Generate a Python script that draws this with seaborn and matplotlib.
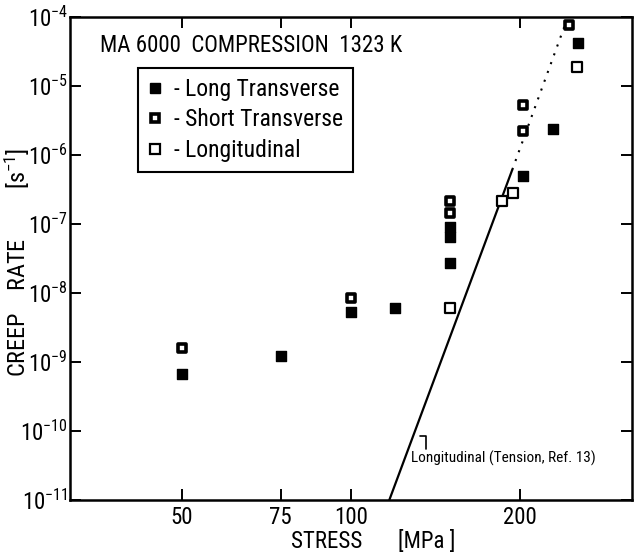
import matplotlib
matplotlib.use("Agg")
import matplotlib.pyplot as plt
import matplotlib.ticker as mticker
from matplotlib.lines import Line2D
import seaborn as sns
import pandas as pd
import numpy as np

# ---------------- data ----------------
long_tr_stress = [50, 75, 100, 120, 150, 150, 150, 202, 229, 253]
long_tr_rate = [6.7e-10, 1.22e-9, 5.3e-9, 6.1e-9, 9.0e-8, 6.5e-8, 2.7e-8, 5.0e-7, 2.4e-6, 4.2e-5]

short_tr_stress = [50, 100, 150, 150, 202, 202, 244]
short_tr_rate = [1.6e-9, 8.5e-9, 2.15e-7, 1.44e-7, 5.3e-6, 2.2e-6, 7.7e-5]

longit_stress = [150, 186, 194, 252]
longit_rate = [6.1e-9, 2.15e-7, 2.8e-7, 1.9e-5]

# tension reference line (Ref. 13): solid part and dotted extrapolation
tension_stress = [117, 193.6]
tension_rate = [1e-11, 6.1e-7]
extrap_stress = [193.6, 242]
extrap_rate = [6.1e-7, 9.0e-5]

x_ticks = [50, 75, 100, 200]
x_ticklabels = ["50", "75", "100", "200"]
y_exponents = [-4, -5, -6, -7, -8, -9, -10, -11]

series_names = ["Long Transverse", "Short Transverse", "Longitudinal"]

# ---------------- styling ----------------
sns.set_theme(style="white")
FONT = ["Roboto Condensed", "Liberation Sans Narrow", "Roboto", "DejaVu Sans"]
plt.rcParams["font.family"] = FONT
plt.rcParams["mathtext.default"] = "regular"
plt.rcParams["text.color"] = "black"

W, H = 634, 555
fig = plt.figure(figsize=(W / 100, H / 100), dpi=100)
fig.patch.set_facecolor("white")
ax = fig.add_axes([70 / W, 1 - 500 / H, 562 / W, 483 / H])
ax.set_facecolor("white")

ax.set_xscale("log")
ax.set_yscale("log")
ax.set_xlim(10 ** 1.5, 10 ** 2.5)
ax.set_ylim(1e-11, 1e-4)

frames = []
for name, s, r in [(series_names[0], long_tr_stress, long_tr_rate),
                   (series_names[1], short_tr_stress, short_tr_rate),
                   (series_names[2], longit_stress, longit_rate)]:
    frames.append(pd.DataFrame({"stress": s, "rate": r, "type": name}))
df = pd.concat(frames, ignore_index=True)

styles = {
    series_names[0]: dict(facecolor="black", edgecolor="black", linewidth=1.0, s=42),
    series_names[1]: dict(facecolor="white", edgecolor="black", linewidth=2.6, s=32),
    series_names[2]: dict(facecolor="white", edgecolor="black", linewidth=1.6, s=48),
}
for name in series_names:
    sub = df[df["type"] == name]
    st = styles[name]
    sns.scatterplot(data=sub, x="stress", y="rate", marker="s", ax=ax,
                    color=st["facecolor"], edgecolor=st["edgecolor"],
                    linewidth=st["linewidth"], s=st["s"], legend=False, zorder=3)

ln = pd.DataFrame({"stress": tension_stress, "rate": tension_rate})
ex = pd.DataFrame({"stress": extrap_stress, "rate": extrap_rate})
sns.lineplot(data=ln, x="stress", y="rate", ax=ax, color="black", linewidth=1.6,
             estimator=None, sort=False, zorder=2)
ax.plot(ex["stress"], ex["rate"], color="black", linewidth=1.5,
        linestyle=(0, (1, 3.5)), zorder=2)

# ticks
ax.xaxis.set_major_locator(mticker.FixedLocator(x_ticks))
ax.xaxis.set_major_formatter(mticker.FixedFormatter(x_ticklabels))
ax.xaxis.set_minor_locator(mticker.NullLocator())
yt = [10.0 ** e for e in y_exponents]
ax.yaxis.set_major_locator(mticker.FixedLocator(yt))
ax.yaxis.set_major_formatter(mticker.FixedFormatter(
    [r"$\mathregular{10^{%d}}$" % e for e in y_exponents]))
ax.yaxis.set_minor_locator(mticker.NullLocator())
ax.tick_params(axis="both", which="major", direction="in", length=8, width=1.4,
               color="black", labelsize=16.5, labelcolor="black",
               top=True, right=True, bottom=True, left=True)
ax.tick_params(axis="x", pad=4)
ax.tick_params(axis="y", pad=1.5)
for sp in ax.spines.values():
    sp.set_visible(True)
    sp.set_color("black")
    sp.set_linewidth(1.8)
ax.set_xlabel("")
ax.set_ylabel("")

# axis titles
fig.text(17 / W, 1 - 262 / H, r"CREEP    RATE         [s$^{-1}$]", rotation=90,
         ha="center", va="center", fontsize=17.5, color="black")
fig.text(327 / W, 1 - 542 / H, "STRESS", ha="center", va="center",
         fontsize=16.5, color="black")
fig.text(427 / W, 1 - 542 / H, "[MPa ]", ha="center", va="center",
         fontsize=16.5, color="black")

# header
fig.text(100 / W, 1 - 45 / H, "MA 6000  COMPRESSION  1323 K", ha="left",
         va="center", fontsize=16.5, color="black")

# legend
handles = [
    Line2D([], [], marker="s", linestyle="none", markersize=6.5,
           markerfacecolor="black", markeredgecolor="black", markeredgewidth=1.0),
    Line2D([], [], marker="s", linestyle="none", markersize=5.6,
           markerfacecolor="white", markeredgecolor="black", markeredgewidth=2.6),
    Line2D([], [], marker="s", linestyle="none", markersize=6.8,
           markerfacecolor="white", markeredgecolor="black", markeredgewidth=1.6),
]
leg = ax.legend(handles, ["- " + n for n in series_names], loc="upper left",
                bbox_to_anchor=(138 / W, 1 - 68 / H), bbox_transform=fig.transFigure,
                borderaxespad=0, frameon=True, fancybox=False, framealpha=1,
                edgecolor="black", fontsize=17, handlelength=0.6,
                handletextpad=0.5, labelspacing=0.32, borderpad=0.42)
leg.get_frame().set_linewidth(1.5)
for t in leg.get_texts():
    t.set_color("black")

# annotation for tension line
fig.text(411 / W, 1 - 458 / H, "Longitudinal (Tension, Ref. 13)", ha="left",
         va="center", fontsize=11, color="black")
hook = Line2D([420 / W, 426 / W, 426 / W], [1 - 436 / H, 1 - 436 / H, 1 - 449 / H],
              transform=fig.transFigure, color="black", linewidth=1.2)
fig.add_artist(hook)

fig.savefig("out.png", dpi=100, facecolor="white")
